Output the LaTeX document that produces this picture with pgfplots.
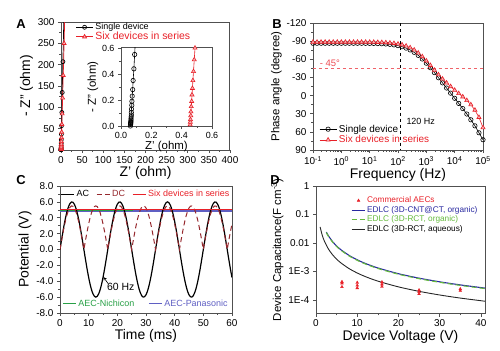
\documentclass[border=0pt]{standalone}
\usepackage{fontspec}
\setmainfont{Liberation Sans}
\usepackage{pgfplots}
\pgfplotsset{compat=1.18}
\definecolor{myred}{RGB}{232,32,40}
\definecolor{dcred}{RGB}{150,40,45}
\definecolor{cgreen}{RGB}{40,160,70}
\definecolor{cblue}{RGB}{95,95,195}
\definecolor{dblue}{RGB}{40,40,160}
\definecolor{dgreen}{RGB}{100,185,60}
\definecolor{axgray}{RGB}{80,80,80}
\pgfplotsset{
  myax/.style={scale only axis, axis line style={axgray, line width=1pt},
    tick style={axgray, line width=0.6pt}, major tick length=3bp, minor tick length=1.8bp,
    tick align=outside, tick pos=left, /pgf/number format/assume math mode=true,
    tick label style={font=\fontsize{10}{11}\selectfont},
    label style={font=\fontsize{14}{15}\selectfont},
    legend style={draw=none, fill=none, font=\fontsize{9.5}{10}\selectfont, inner sep=1pt},
    legend cell align=left},
  shortline/.style={legend image code/.code={\draw[##1] (0bp,0bp) -- (13bp,0bp);}},
  dmark/.style={legend image code/.code={\draw[##1] plot coordinates {(7bp,0bp)};}},
}
\begin{document}
\begin{tikzpicture}
\useasboundingbox (0,0) rectangle (500bp,-351bp);
% ---------------- Panel A ----------------
\begin{axis}[myax, at={(61bp,-150bp)}, anchor=south west, width=169bp, height=128bp,
  xmin=0, xmax=400, ymin=0, ymax=300, xtick={0,50,...,400}, ytick={0,50,...,300},
  minor x tick num=1, minor y tick num=1,
  xlabel={Z' (ohm)}, ylabel={- Z'' (ohm)},
  xlabel style={yshift=4bp}, ylabel style={yshift=-2bp},
  legend style={at={(0.08,1.015)}, anchor=north west, row sep=-3pt}]
\addplot[black, mark=o, mark size=2bp, line width=0.7pt] coordinates {
(0.09,0.5) (0.1,0.8) (0.12,1.2) (0.15,1.8) (0.2,2.8) (0.25,4.3) (0.3,6.6) (0.4,10.1) (0.5,15.6) (0.7,24) (0.9,37) (1.3,57) (2,88) (2.9,135) (4.5,207) (7,320)};
\addlegendentry{\fontsize{9}{9}\selectfont Single device}
\addplot[myred, mark=triangle*, mark options={fill=myred!35}, mark size=2.3bp, line width=0.7pt] coordinates {
(0.5,1.2) (0.52,1.7) (0.54,2.4) (0.57,3.4) (0.6,4.9) (0.65,7) (0.72,10) (0.8,14) (1,20) (1.3,29) (1.6,42) (2.1,60) (2.8,85) (3.8,122) (5.3,175) (7.4,250) (9.5,340)};
\addlegendentry{\textcolor{myred}{\fontsize{10.5}{10.5}\selectfont Six devices in series}}
\end{axis}
% inset
\begin{axis}[myax, at={(121bp,-126bp)}, anchor=south west, width=91bp, height=78bp,
  axis background/.style={fill=white},
  xmin=0, xmax=0.6, ymin=0, ymax=0.6, xtick={0,0.2,0.4,0.6}, ytick={0,0.2,0.4,0.6},
  minor x tick num=1, minor y tick num=1,
  tick label style={font=\fontsize{9}{10}\selectfont},
  xticklabel style={/pgf/number format/.cd, fixed, fixed zerofill, precision=1},
  yticklabel style={/pgf/number format/.cd, fixed, fixed zerofill, precision=1},
  xlabel={Z' (ohm)}, ylabel={- Z'' (ohm)},
  label style={font=\fontsize{11.5}{12}\selectfont},
  xlabel style={yshift=5bp}, ylabel style={yshift=-3bp}]
\addplot[black, mark=o, mark size=2.2bp, line width=0.6pt] coordinates {
(0.062,0) (0.063,0.013) (0.064,0.017) (0.064,0.022) (0.065,0.028) (0.065,0.035) (0.066,0.045) (0.066,0.055) (0.067,0.07) (0.068,0.085) (0.068,0.105) (0.069,0.13) (0.071,0.16) (0.072,0.19) (0.074,0.23) (0.077,0.28) (0.08,0.35) (0.085,0.44) (0.09,0.55) (0.093,0.62)};
\addplot[myred, mark=triangle*, mark options={fill=myred!35}, mark size=2.4bp, line width=0.6pt] coordinates {
(0.456,0.01) (0.457,0.03) (0.458,0.05) (0.46,0.08) (0.461,0.11) (0.463,0.15) (0.466,0.19) (0.468,0.24) (0.471,0.29) (0.474,0.35) (0.478,0.42) (0.483,0.51) (0.488,0.6)};
\end{axis}
\node[font=\bfseries\fontsize{13}{13}\selectfont] at (21bp,-24bp) {A};
% ---------------- Panel B ----------------
\begin{axis}[myax, at={(313bp,-150bp)}, anchor=south west, width=170bp, height=127bp,
  xmode=log, xmin=0.1, xmax=1e5, ymin=-120, ymax=90, y dir=reverse,
  ytick={-120,-90,...,90}, minor y tick num=1,
  xtick={0.1,1,10,100,1000,10000,100000},
  xticklabels={10\textsuperscript{-1},10\textsuperscript{0},10\textsuperscript{1},10\textsuperscript{2},10\textsuperscript{3},10\textsuperscript{4},10\textsuperscript{5}},
  xlabel={Frequency (Hz)}, ylabel={Phase angle (degree)},
  xlabel style={yshift=4bp}, ylabel style={yshift=-2bp, font=\fontsize{11.5}{12}\selectfont},
  legend style={at={(0.03,0.02)}, anchor=south west, row sep=-2pt, font=\fontsize{10}{10}\selectfont}]
\addplot[black, dashed, line width=0.6pt, forget plot] coordinates {(120,-120) (120,90)};
\addplot[myred!70, dashed, line width=0.6pt, forget plot] coordinates {(0.1,-45) (1e5,-45)};
\addplot[black, mark=o, mark size=2.2bp, line width=0.6pt] coordinates {
(0.1,-86.5) (0.1389,-86.5) (0.1931,-86.5) (0.2683,-86.5) (0.3728,-86.5) (0.5179,-86.5) (0.7197,-86.5)
(1,-86.5) (1.389,-86.5) (1.931,-86.5) (2.683,-86.5) (3.728,-86.5) (5.179,-86.5) (7.197,-86.4)
(10,-86.3) (13.89,-86.2) (19.31,-86) (26.83,-85.7) (37.28,-85.3) (51.79,-84.7) (71.97,-83.8)
(100,-82.5) (138.9,-80.8) (193.1,-78.5) (268.3,-75.5) (372.8,-71.5) (517.9,-66.5) (719.7,-60.5)
(1000,-53.5) (1389,-46) (1931,-38) (2683,-29.5) (3728,-21) (5179,-12.5) (7197,-4)
(10000,4.5) (13890,13) (19310,21.5) (26830,30.5) (37280,40) (51790,50) (71970,61.5) (100000,73)};
\addlegendentry{Single device}
\addplot[myred, mark=triangle*, mark options={fill=myred!35}, mark size=2.4bp, line width=0.6pt] coordinates {
(0.1,-88.5) (0.1389,-88.5) (0.1931,-88.5) (0.2683,-88.5) (0.3728,-88.5) (0.5179,-88.5) (0.7197,-88.5)
(1,-88.5) (1.389,-88.5) (1.931,-88.5) (2.683,-88.5) (3.728,-88.5) (5.179,-88.5) (7.197,-88.5)
(10,-88.4) (13.89,-88.3) (19.31,-88.1) (26.83,-87.9) (37.28,-87.6) (51.79,-87.1) (71.97,-86.4)
(100,-85.4) (138.9,-84) (193.1,-82) (268.3,-79.2) (372.8,-75.5) (517.9,-70.5) (719.7,-64.5)
(1000,-57.5) (1389,-50) (1931,-42) (2683,-34.5) (3728,-27.5) (5179,-21) (7197,-15)
(10000,-9) (13890,-3.5) (19310,2) (26830,8) (37280,15) (51790,24) (71970,36) (100000,53)};
\addlegendentry{\textcolor{myred}{Six devices in series}}
\node[myred!80, anchor=west, font=\fontsize{9.5}{10}\selectfont] at (axis cs:0.13,-53) {- 45°};
\node[black, anchor=west, font=\fontsize{9}{10}\selectfont] at (axis cs:150,42) {120 Hz};
\end{axis}
\node[font=\bfseries\fontsize{13}{13}\selectfont] at (277bp,-24bp) {B};
% ---------------- Panel C ----------------
\begin{axis}[myax, at={(60bp,-313bp)}, anchor=south west, width=172bp, height=127bp,
  xmin=0, xmax=60, ymin=-8, ymax=8, xtick={0,10,...,60}, ytick={-8,-6,...,8},
  minor x tick num=1, minor y tick num=1,
  yticklabel style={/pgf/number format/.cd, fixed, fixed zerofill, precision=1},
  xlabel={Time (ms)}, ylabel={Potential (V)},
  xlabel style={yshift=4bp}, ylabel style={yshift=-2bp},
  shortline,
  legend columns=3, legend style={at={(0.5,0.99)}, anchor=north, font=\fontsize{9}{10}\selectfont, /tikz/every even column/.append style={column sep=5bp}}]
\addplot[cblue, line width=1.1pt, forget plot] coordinates {(0,4.85) (60,4.85)};
\addplot[cgreen, line width=1.1pt, forget plot] coordinates {(0,4.87) (25.5,4.87)};
\addplot[black, line width=1.2pt, smooth] coordinates {
(0,0) (0.5,1.124) (1,2.209) (1.5,3.215) (2,4.107) (2.5,4.854) (3,5.429) (3.5,5.812) (4,5.988) (4.5,5.953) (5,5.707) (5.5,5.258) (6,4.623) (6.5,3.824) (7,2.891) (7.5,1.854) (8,0.752) (8.5,-0.377) (9,-1.492) (9.5,-2.555) (10,-3.527) (10.5,-4.374) (11,-5.066) (11.5,-5.579) (12,-5.894) (12.5,-6) (13,-5.894) (13.5,-5.579) (14,-5.066) (14.5,-4.374) (15,-3.527) (15.5,-2.555) (16,-1.492) (16.5,-0.377) (17,0.752) (17.5,1.854) (18,2.891) (18.5,3.824) (19,4.623) (19.5,5.258) (20,5.707) (20.5,5.953) (21,5.988) (21.5,5.812) (22,5.429) (22.5,4.854) (23,4.107) (23.5,3.215) (24,2.209) (24.5,1.124) (25,0) (25.5,-1.124) (26,-2.209) (26.5,-3.215) (27,-4.107) (27.5,-4.854) (28,-5.429) (28.5,-5.812) (29,-5.988) (29.5,-5.953) (30,-5.707) (30.5,-5.258) (31,-4.623) (31.5,-3.824) (32,-2.891) (32.5,-1.854) (33,-0.752) (33.5,0.377) (34,1.492) (34.5,2.555) (35,3.527) (35.5,4.374) (36,5.066) (36.5,5.579) (37,5.894) (37.5,6) (38,5.894) (38.5,5.579) (39,5.066) (39.5,4.374) (40,3.527) (40.5,2.555) (41,1.492) (41.5,0.377) (42,-0.752) (42.5,-1.854) (43,-2.891) (43.5,-3.824) (44,-4.623) (44.5,-5.258) (45,-5.707) (45.5,-5.953) (46,-5.988) (46.5,-5.812) (47,-5.429) (47.5,-4.854) (48,-4.107) (48.5,-3.215) (49,-2.209) (49.5,-1.124) (50,0) (50.5,1.124) (51,2.209) (51.5,3.215) (52,4.107) (52.5,4.854) (53,5.429) (53.5,5.812) (54,5.988) (54.5,5.953) (55,5.707) (55.5,5.258) (56,4.623) (56.5,3.824) (57,2.891) (57.5,1.854) (58,0.752) (58.5,-0.377) (59,-1.492) (59.5,-2.555) (60,-3.527)};
\addlegendentry{AC}
\addplot[dcred, line width=1pt, dash pattern=on 5bp off 3.5bp] coordinates {
(0,0) (0.5,1.031) (1,2.025) (1.5,2.947) (2,3.765) (2.5,4.450) (3,4.976) (3.5,5.327) (4,5.489) (4.5,5.457) (5,5.231) (5.5,4.820) (6,4.238) (6.5,3.506) (7,2.650) (7.5,1.700) (8,0.689) (8.333,0) (8.5,0.345) (9,1.368) (9.5,2.342) (10,3.233) (10.5,4.010) (11,4.644) (11.5,5.114) (12,5.403) (12.5,5.5) (13,5.403) (13.5,5.114) (14,4.644) (14.5,4.010) (15,3.233) (15.5,2.342) (16,1.368) (16.5,0.345) (16.667,0) (17,0.689) (17.5,1.700) (18,2.650) (18.5,3.506) (19,4.238) (19.5,4.820) (20,5.231) (20.5,5.457) (21,5.489) (21.5,5.327) (22,4.976) (22.5,4.450) (23,3.765) (23.5,2.947) (24,2.025) (24.5,1.031) (25,0) (25.5,1.031) (26,2.025) (26.5,2.947) (27,3.765) (27.5,4.450) (28,4.976) (28.5,5.327) (29,5.489) (29.5,5.457) (30,5.231) (30.5,4.820) (31,4.238) (31.5,3.506) (32,2.650) (32.5,1.700) (33,0.689) (33.333,0) (33.5,0.345) (34,1.368) (34.5,2.342) (35,3.233) (35.5,4.010) (36,4.644) (36.5,5.114) (37,5.403) (37.5,5.5) (38,5.403) (38.5,5.114) (39,4.644) (39.5,4.010) (40,3.233) (40.5,2.342) (41,1.368) (41.5,0.345) (41.667,0) (42,0.689) (42.5,1.700) (43,2.650) (43.5,3.506) (44,4.238) (44.5,4.820) (45,5.231) (45.5,5.457) (46,5.489) (46.5,5.327) (47,4.976) (47.5,4.450) (48,3.765) (48.5,2.947) (49,2.025) (49.5,1.031) (50,0) (50.5,1.031) (51,2.025) (51.5,2.947) (52,3.765) (52.5,4.450) (53,4.976) (53.5,5.327) (54,5.489) (54.5,5.457) (55,5.231) (55.5,4.820) (56,4.238) (56.5,3.506) (57,2.650) (57.5,1.700) (58,0.689) (58.333,0) (58.5,0.345) (59,1.368) (59.5,2.342) (60,3.233)};
\addlegendentry{\textcolor{dcred}{DC}}
\addplot[myred, line width=1.1pt] coordinates {(0,5.05) (60,5.05)};
\addlegendentry{\textcolor{myred}{Six devices in series}}
\draw[-stealth, line width=0.6pt] (axis cs:16.8,-4.3) -- (axis cs:15.1,-3.45);
\node[font=\fontsize{10.5}{11}\selectfont] at (axis cs:21.2,-4.7) {60 Hz};
\end{axis}
\begin{axis}[myax, at={(60bp,-313bp)}, anchor=south west, width=172bp, height=127bp,
  xmin=0, xmax=60, ymin=-8, ymax=8, hide axis, shortline,
  legend columns=2, legend style={at={(0.5,0.015)}, anchor=south, font=\fontsize{9}{10}\selectfont, /tikz/every even column/.append style={column sep=12bp}}]
\addlegendimage{cgreen, line width=1.1pt}
\addlegendentry{\textcolor{cgreen}{AEC-Nichicon}}
\addlegendimage{cblue, line width=1.1pt}
\addlegendentry{\textcolor{cblue}{AEC-Panasonic}}
\end{axis}
\node[font=\bfseries\fontsize{13}{13}\selectfont] at (21bp,-180bp) {C};
% ---------------- Panel D ----------------
\begin{axis}[myax, at={(316bp,-313.5bp)}, anchor=south west, width=169bp, height=127.5bp,
  xmin=0, xmax=41, ymode=log, ymin=3.3e-5, ymax=1,
  xtick={0,10,...,40}, minor x tick num=1,
  ytick={1,0.1,0.01,0.001,0.0001}, yticklabels={1,0.1,0.01,1E-3,1E-4},
  xlabel={Device Voltage (V)}, ylabel={Device Capacitance(F cm\textsuperscript{-3})},
  ylabel style={font=\fontsize{11.5}{12}\selectfont, yshift=-2bp},
  xlabel style={yshift=4bp},
  legend style={at={(0.2,0.94)}, anchor=north west, row sep=-2pt, font=\fontsize{8.3}{9}\selectfont}]
\addplot[only marks, myred, mark=triangle*, mark size=1.6bp, dmark] coordinates {
(6.3,4.3e-4) (6.3,3.8e-4) (6.3,2.85e-4) (10,4.0e-4) (10,3.2e-4) (10,2.6e-4) (16,4.2e-4) (16,3.5e-4) (16,2.9e-4) (25,2.2e-4) (25,1.9e-4) (25,1.6e-4) (35,2.4e-4) (35,2.1e-4)};
\addlegendentry{\textcolor{myred}{Commercial AECs}}
\addplot[dblue, line width=1.1pt, smooth, shortline] coordinates {
(2.5,0.0240) (3,0.01787) (4,0.0112) (5,0.00781) (6,0.00581) (8,0.00365) (10,0.00254) (12,0.00189) (15,0.001317) (20,8.27e-4) (25,5.76e-4) (30,4.29e-4) (35,3.34e-4) (41,2.58e-4)};
\addlegendentry{\textcolor{dblue}{EDLC (3D-CNT@CT, organic)}}
\addplot[dgreen, line width=1.1pt, dash pattern=on 5bp off 3bp, smooth, shortline] coordinates {
(2.5,0.0231) (3,0.01716) (4,0.01075) (5,0.0075) (6,0.00558) (8,0.0035) (10,0.00244) (12,0.00181) (15,0.001264) (20,7.94e-4) (25,5.53e-4) (30,4.12e-4) (35,3.21e-4) (41,2.48e-4)};
\addlegendentry{\textcolor{dgreen}{EDLC (3D-RCT, organic)}}
\addplot[black!85, line width=0.9pt, smooth, shortline] coordinates {
(1,0.0365) (1.5,0.01893) (2,0.01187) (3,0.006158) (4,0.003862) (5,0.002692) (6,0.002003) (8,0.001257) (10,8.76e-4) (12,6.52e-4) (15,4.54e-4) (20,2.85e-4) (25,1.985e-4) (30,1.477e-4) (35,1.151e-4) (41,8.91e-5)};
\addlegendentry{EDLC (3D-RCT, aqueous)}
\end{axis}
\node[font=\bfseries\fontsize{13}{13}\selectfont] at (275bp,-180bp) {D};
\end{tikzpicture}
\end{document}
